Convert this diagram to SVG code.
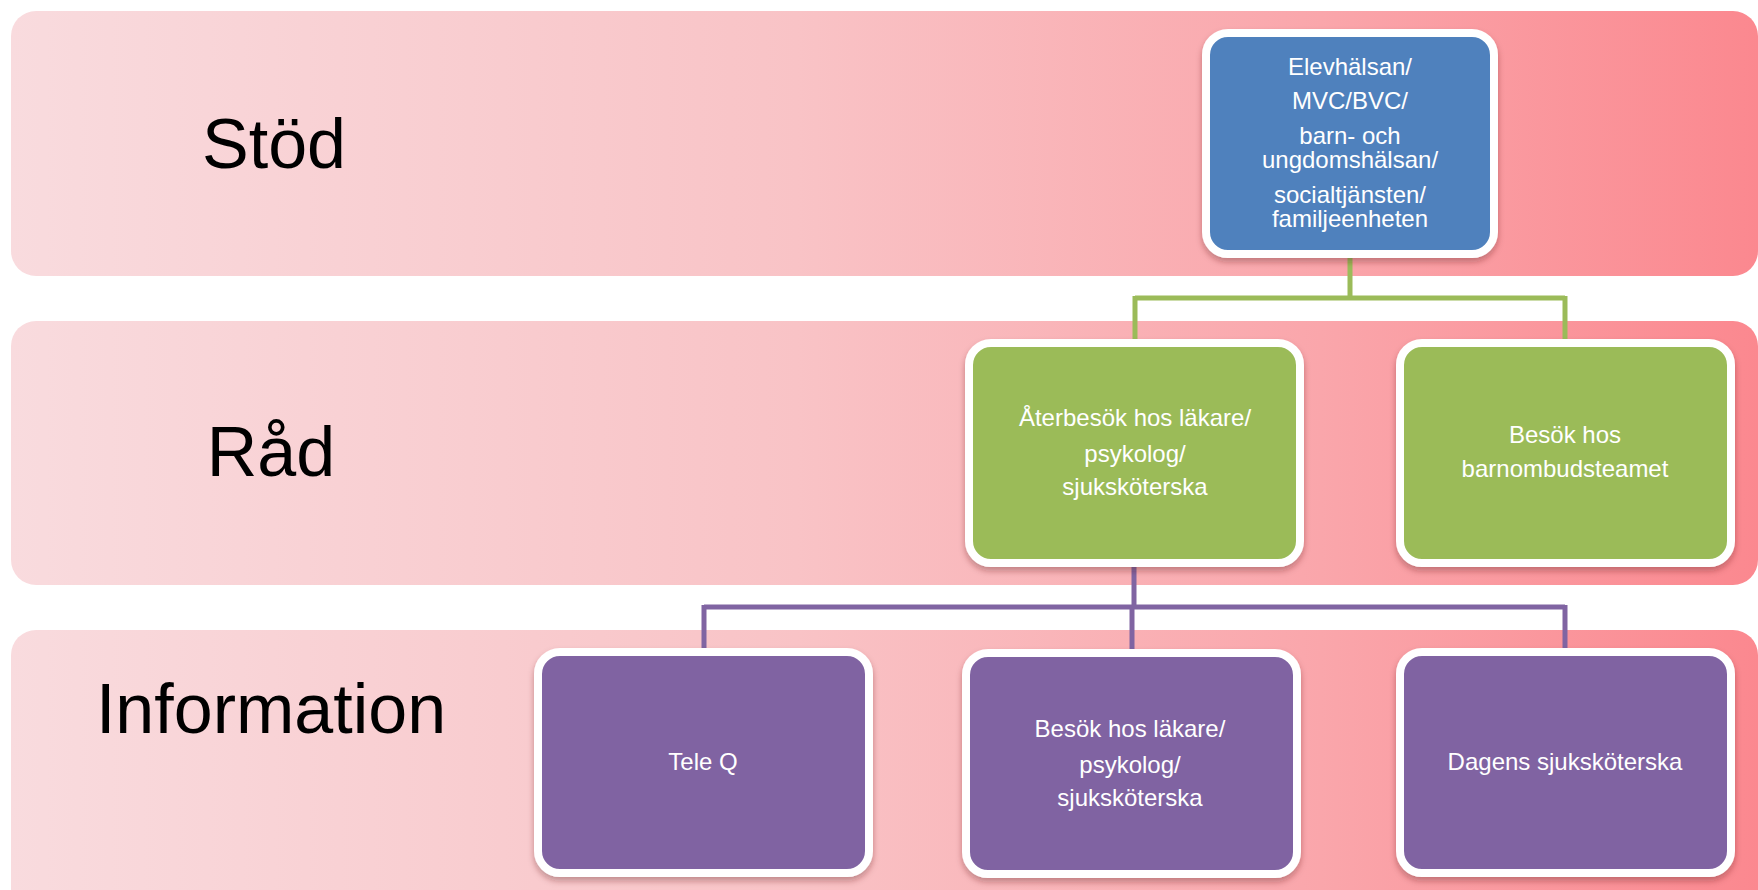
<svg xmlns="http://www.w3.org/2000/svg" width="1758" height="890" viewBox="0 0 1758 890">
<defs>
<linearGradient id="band" x1="0" y1="0" x2="1" y2="0" gradientUnits="objectBoundingBox">
<stop offset="0" stop-color="#F9DBDE"/>
<stop offset="0.45" stop-color="#F9C3C6"/>
<stop offset="0.75" stop-color="#FAA6AB"/>
<stop offset="1" stop-color="#FB888F"/>
</linearGradient>
<filter id="sh" x="-10%" y="-10%" width="120%" height="125%">
<feDropShadow dx="0" dy="4" stdDeviation="3" flood-color="#5a1a20" flood-opacity="0.35"/>
</filter>
</defs>
<style>
.band{fill:url(#band)}
.lbl{font-family:"Liberation Sans",Arial,sans-serif;font-size:70px;fill:#000;text-anchor:middle}
.node{stroke:#fff;stroke-width:8;filter:url(#sh)}
.blue{fill:#4F81BD}
.green{fill:#9BBB59}
.purple{fill:#8064A2}
.t{font-family:"Liberation Sans",Arial,sans-serif;font-size:24px;fill:#fff;text-anchor:middle}
.cg{fill:none;stroke:#9BBB59;stroke-width:5}
.cp{fill:none;stroke:#8064A2;stroke-width:5}
</style>
<g id="bands">
<rect class="band" x="11" y="11" width="1747" height="265" rx="25"/>
<rect class="band" x="11" y="321" width="1747" height="264" rx="25"/>
<rect class="band" x="11" y="630" width="1747" height="290" rx="25"/>
<text class="lbl" x="274" y="168">Stöd</text>
<text class="lbl" x="271" y="476">Råd</text>
<text class="lbl" x="271" y="733">Information</text>
</g>
<g id="connectors">
<path class="cg" d="M1350 254 V298 M1135 298 H1565 M1135 296 V339 M1565 296 V339"/>
<path class="cp" d="M1134 567 V607 M704 607 H1565 M704 605 V648 M1132 605 V650 M1565 605 V648"/>
</g>
<g id="n-elevhalsan">
<rect class="node blue" x="1206" y="33" width="288" height="221" rx="22"/>
<text class="t" x="1350" y="75">Elevhälsan/</text>
<text class="t" x="1350" y="109">MVC/BVC/</text>
<text class="t" x="1350" y="144">barn- och</text>
<text class="t" x="1350" y="168">ungdomshälsan/</text>
<text class="t" x="1350" y="203">socialtjänsten/</text>
<text class="t" x="1350" y="227">familjeenheten</text>
</g>
<g id="n-aterbesok">
<rect class="node green" x="969" y="343" width="331" height="220" rx="22"/>
<text class="t" x="1135" y="426">Återbesök hos läkare/</text>
<text class="t" x="1135" y="462">psykolog/</text>
<text class="t" x="1135" y="495">sjuksköterska</text>
</g>
<g id="n-barnombud">
<rect class="node green" x="1400" y="343" width="331" height="220" rx="22"/>
<text class="t" x="1565" y="443">Besök hos</text>
<text class="t" x="1565" y="477">barnombudsteamet</text>
</g>
<g id="n-teleq">
<rect class="node purple" x="538" y="652" width="331" height="221" rx="22"/>
<text class="t" x="703" y="770">Tele Q</text>
</g>
<g id="n-besok">
<rect class="node purple" x="966" y="653" width="331" height="221" rx="22"/>
<text class="t" x="1130" y="737">Besök hos läkare/</text>
<text class="t" x="1130" y="773">psykolog/</text>
<text class="t" x="1130" y="806">sjuksköterska</text>
</g>
<g id="n-dagens">
<rect class="node purple" x="1400" y="652" width="331" height="221" rx="22"/>
<text class="t" x="1565" y="770">Dagens sjuksköterska</text>
</g>
</svg>
